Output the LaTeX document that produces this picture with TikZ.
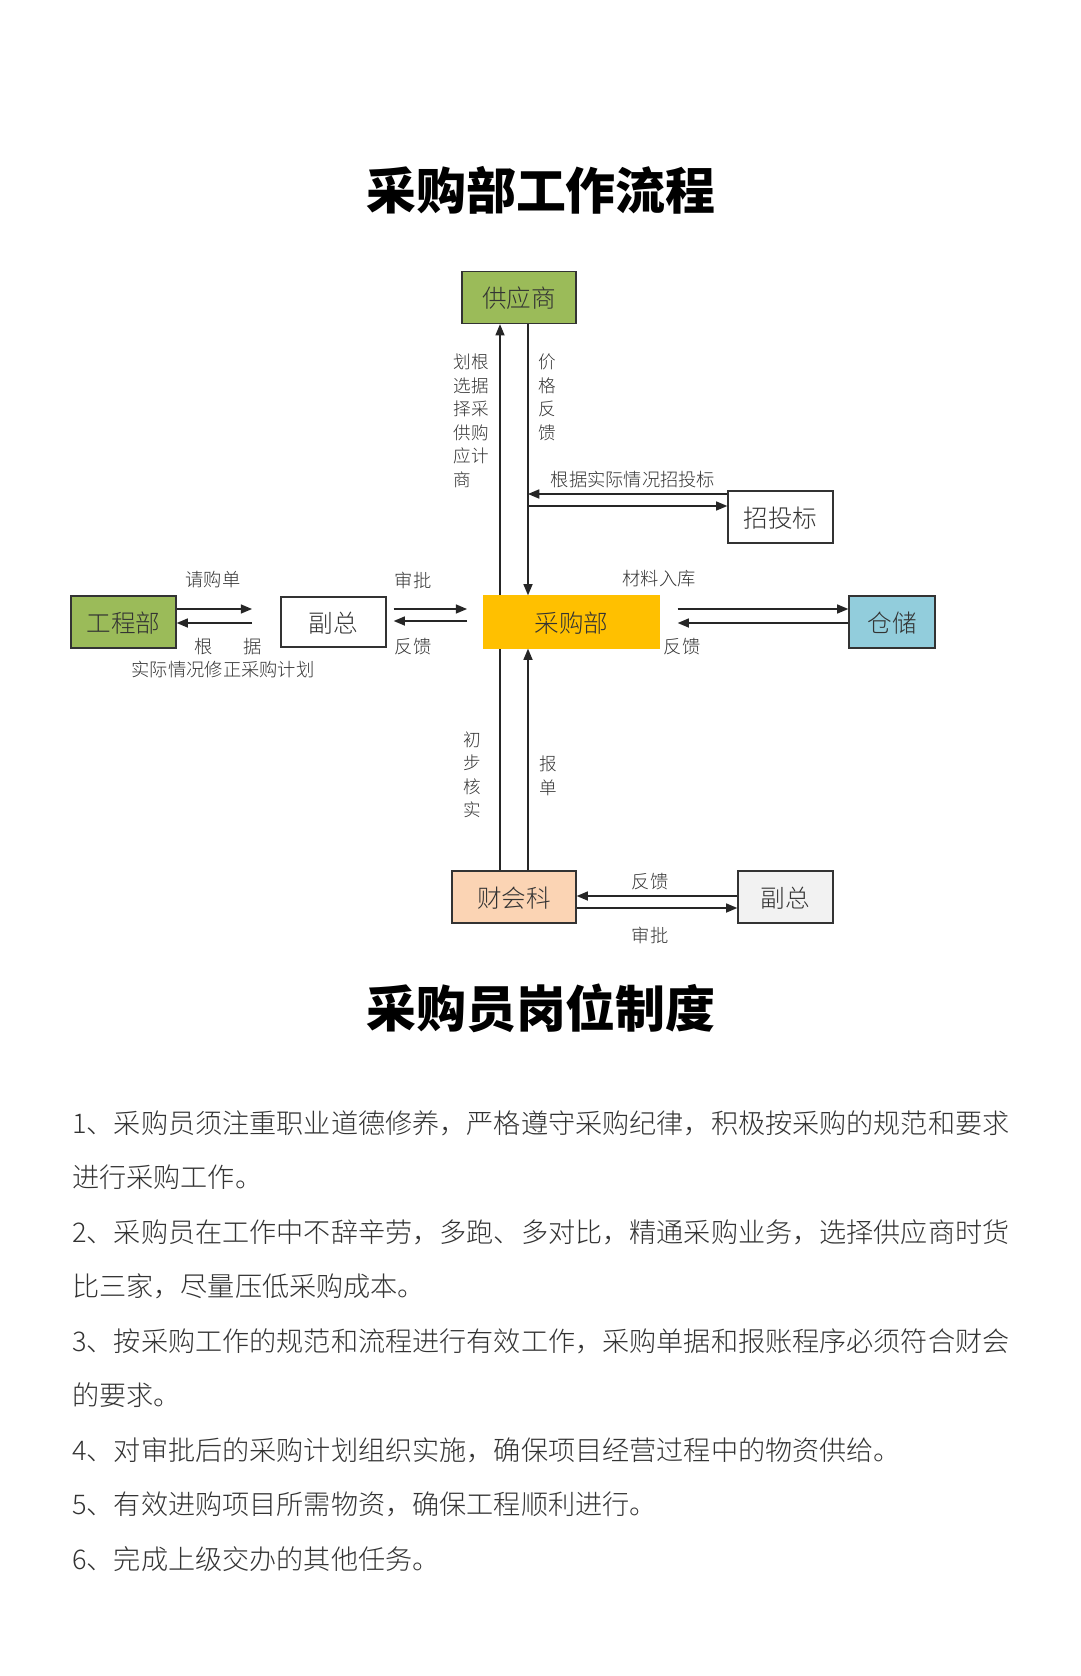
\documentclass[tikz,border=0pt]{standalone}
\usepackage{fontspec}
\setmainfont{Noto Sans CJK SC Light}[BoldFont={Noto Sans CJK SC Black}]
\usetikzlibrary{arrows.meta,positioning,backgrounds}
\definecolor{Olive}{HTML}{9BBB59}
\definecolor{Amber}{HTML}{FFC000}
\definecolor{SkyBlue}{HTML}{92CDDC}
\definecolor{Peach}{HTML}{FBD4B4}
\definecolor{Mist}{HTML}{F2F2F2}
\definecolor{Ink}{HTML}{333333}

\begin{document}
\begin{tikzpicture}[x=0.025cm,y=-0.025cm,
    box/.style={draw=black!80,line width=1pt,inner sep=0pt,minimum height=1.3cm,
      text height=1.5em,text depth=0.07em,text=Ink,font=\fontsize{17.5}{20}\selectfont},
    lbl/.style={inner sep=0pt,text=Ink,font=\fontsize{13}{15}\selectfont},
    vlbl/.style={lbl,align=center,font=\fontsize{12.5}{16.7}\selectfont},
    arr/.style={draw=black!85,line width=0.9pt,-{Triangle[length=8pt,width=6.5pt]}},
    heading/.style={inner sep=0pt,font=\fontsize{35.5}{40}\selectfont\bfseries},
    bodyline/.style={anchor=west,inner sep=0pt,text=Ink,font=\fontsize{19.3}{24}\selectfont}]
  \useasboundingbox (0,0) rectangle (1080,1676);

  % titles
  \node[heading] (head1) at (541,190) {采购部工作流程};
  \node[heading] (head2) at (541,1008) {采购员岗位制度};

  % boxes of the flow
  \node[box,fill=Olive,minimum width=2.85cm] (sup) at (519,297.5) {供应商};
  \node[box,fill=white,minimum width=2.625cm] (bid) at (780.5,517) {招投标};
  \node[box,fill=Olive,minimum width=2.625cm] (eng) at (123.5,622) {工程部};
  \node[box,fill=white,minimum width=2.625cm,minimum height=1.25cm] (vp1) at (333.5,622) {副总};
  \node[box,fill=Amber,draw=Amber,minimum width=4.375cm] (pur) at (571.5,622) {采购部};
  \node[box,fill=SkyBlue,minimum width=2.15cm] (store) at (892,622) {仓储};
  \node[box,fill=Peach,minimum width=3.1cm] (fin) at (514,897) {财会科};
  \node[box,fill=Mist,minimum width=2.375cm] (vp2) at (785.5,897) {副总};

  \coordinate (lx) at (500,0);
  \coordinate (rx) at (528,0);
  \coordinate (gapA) at (252,0);
  \coordinate (gapB) at (467,0);

  % long line behind 采购部
  \begin{scope}[on background layer]
    \fill[white] (0,0) rectangle (1080,1676);
    \draw[arr] (fin.north -| lx) -- (sup.south -| lx);
  \end{scope}
  \draw[arr] (sup.south -| rx) -- (pur.north -| rx);
  \draw[arr] (fin.north -| rx) -- (pur.south -| rx);

  % 招投标
  \coordinate (bidHi) at ([yshift=0.575cm]bid.west);
  \coordinate (bidLo) at ([yshift=0.275cm]bid.west);
  \draw[arr] (bidHi) -- (bidHi -| rx);
  \draw[arr] (bidLo -| rx) -- (bidLo);

  % 工程部 -- 副总 -- 采购部 -- 仓储
  \coordinate (engHi) at ([yshift=0.325cm]eng.east);
  \coordinate (engLo) at ([yshift=-0.025cm]eng.east);
  \draw[arr] (engHi) -- (engHi -| gapA);
  \draw[arr] (engLo -| gapA) -- (engLo);
  \coordinate (vpOut) at ([xshift=0.175cm,yshift=0.325cm]vp1.east);
  \coordinate (vpIn) at ([xshift=0.175cm,yshift=0.025cm]vp1.east);
  \draw[arr] (vpOut) -- (vpOut -| gapB);
  \draw[arr] (vpIn -| gapB) -- (vpIn);
  \coordinate (purOut) at ([xshift=0.45cm,yshift=0.325cm]pur.east);
  \coordinate (purIn) at ([xshift=0.45cm,yshift=-0.025cm]pur.east);
  \draw[arr] (purOut) -- (purOut -| store.west);
  \draw[arr] (purIn -| store.west) -- (purIn);

  % 财会科 -- 副总
  \draw[arr] ([yshift=0.025cm]vp2.west) -- ([yshift=0.025cm]fin.east);
  \draw[arr] ([yshift=-0.275cm]fin.east) -- ([yshift=-0.275cm]vp2.west);

  % labels
  \node[vlbl,align=left] (lblPlan) at (471,421) {划根\\选据\\择采\\供购\\应计\\商};
  \node[vlbl] (lblPrice) at (547,397.5) {价\\格\\反\\馈};
  \node[lbl] (lblBid) at (633,480) {根据实际情况招投标};
  \node[lbl] (lblReq) at (213,580) {请购单};
  \node[lbl] (lblBase) at (228,647) {根\hspace{22pt}据};
  \node[lbl] (lblFix) at (223,670) {实际情况修正采购计划};
  \node[lbl] (lblOk1) at (413,580) {审批};
  \node[lbl] (lblBack1) at (413,647) {反馈};
  \node[lbl] (lblIn) at (659,579) {材料入库};
  \node[lbl] (lblBack2) at (682,647) {反馈};
  \node[vlbl] (lblCheck) at (472,775) {初\\步\\核\\实};
  \node[vlbl] (lblRep) at (548,776) {报\\单};
  \node[lbl] (lblBack3) at (650,882) {反馈};
  \node[lbl] (lblOk2) at (650,935) {审批};

  % rules
  \foreach \t [count=\i from 0] in {%
      1、采购员须注重职业道德修养，严格遵守采购纪律，积极按采购的规范和要求,
      进行采购工作。,
      2、采购员在工作中不辞辛劳，多跑、多对比，精通采购业务，选择供应商时货,
      比三家，尽量压低采购成本。,
      3、按采购工作的规范和流程进行有效工作，采购单据和报账程序必须符合财会,
      的要求。,
      4、对审批后的采购计划组织实施，确保项目经营过程中的物资供给。,
      5、有效进购项目所需物资，确保工程顺利进行。,
      6、完成上级交办的其他任务。}
    \node[bodyline] (line\i) at (72,{1123+\i*54.5}) {\t};
\end{tikzpicture}
\end{document}
